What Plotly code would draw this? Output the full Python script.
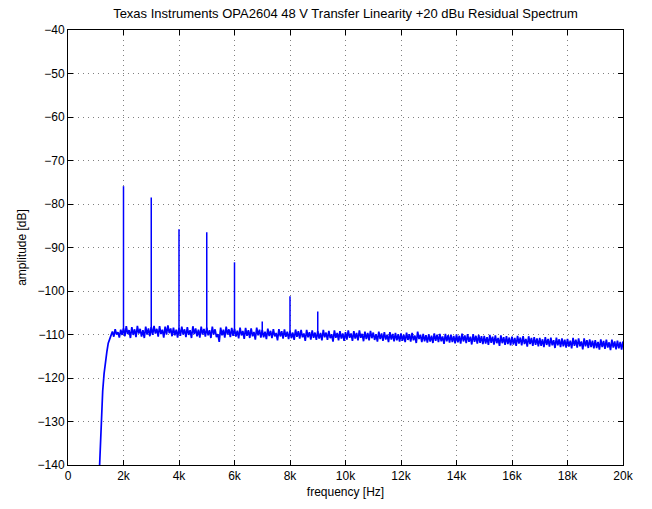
import plotly.graph_objects as go

# ---- data ----
# low-frequency roll-off (Hz, dB)
rolloff_hz = [1100, 1150, 1200, 1250, 1300, 1350, 1400, 1450, 1500, 1550]
rolloff_db = [-146.0, -138.5, -130.0, -123.0, -119.0, -116.0, -114.0, -112.0, -110.8, -110.2]

# residual noise floor (centre of the noise band), every 100 Hz from 1600 Hz to 20000 Hz (dB)
floor_start_hz = 1600
floor_step_hz = 100
floor_db = [
    # 1.6k - 1.9k
    -109.9, -109.4, -110.1, -109.5,
    # 2.0k - 2.9k
    -109.5, -109.0, -109.9, -109.2, -109.7, -108.9, -109.6, -109.9, -109.1, -109.5,
    # 3.0k - 3.9k
    -109.2, -108.9, -109.6, -109.0, -109.8, -109.1, -108.8, -109.5, -109.3, -109.8,
    # 4.0k - 4.9k
    -109.4, -109.1, -109.7, -109.2, -109.9, -109.0, -109.5, -109.8, -109.1, -109.6,
    # 5.0k - 5.9k
    -109.3, -109.9, -109.1, -109.7, -110.8, -109.3, -109.8, -109.1, -109.7, -109.4,
    # 6.0k - 6.9k
    -109.6, -110.0, -109.3, -110.1, -109.4, -109.9, -109.5, -110.3, -109.3, -109.8,
    # 7.0k - 7.9k
    -109.8, -110.2, -109.5, -110.0, -109.6, -110.5, -109.6, -110.1, -109.7, -110.2,
    # 8.0k - 8.9k
    -110.0, -110.4, -109.7, -110.1, -109.8, -110.6, -109.8, -110.3, -109.9, -110.4,
    # 9.0k - 9.9k
    -110.1, -110.5, -109.8, -110.4, -110.0, -110.8, -109.9, -110.5, -110.1, -110.6,
    # 10.0k - 10.9k
    -110.3, -109.9, -110.6, -110.1, -110.5, -109.9, -110.7, -110.2, -110.5, -110.0,
    # 11.0k - 11.9k
    -110.4, -110.8, -110.2, -110.6, -110.3, -110.9, -110.3, -110.7, -110.5, -110.8,
    # 12.0k - 12.9k
    -110.6, -110.9, -110.4, -110.8, -110.5, -111.1, -110.2, -110.9, -110.7, -111.0,
    # 13.0k - 13.9k
    -110.8, -111.1, -110.6, -110.9, -110.7, -111.3, -110.7, -111.0, -110.9, -111.2,
    # 14.0k - 14.9k
    -110.9, -111.2, -110.7, -111.1, -110.8, -111.4, -110.8, -111.2, -111.0, -111.3,
    # 15.0k - 15.9k
    -111.2, -111.5, -111.0, -111.4, -111.1, -111.7, -111.1, -111.5, -111.3, -111.6,
    # 16.0k - 16.9k
    -111.4, -111.7, -111.2, -111.6, -111.3, -111.9, -111.3, -111.7, -111.5, -111.8,
    # 17.0k - 17.9k
    -111.7, -112.0, -111.5, -111.9, -111.6, -112.2, -111.6, -112.0, -111.8, -112.1,
    # 18.0k - 18.9k
    -111.9, -112.3, -111.7, -112.1, -111.8, -112.5, -111.8, -112.2, -112.0, -112.3,
    # 19.0k - 20.0k
    -112.2, -112.6, -112.0, -112.4, -112.1, -112.7, -112.1, -112.5, -112.3, -112.6,
    -112.5,
]
# half-thickness of the noise band (dB), one value per kHz from 1k .. 20k
band_halfwidth_db = [0.6, 0.9, 0.9, 0.9, 0.9, 0.9, 0.85, 0.85, 0.85, 0.85,
                     0.85, 0.85, 0.85, 0.9, 0.9, 0.9, 0.9, 0.9, 0.9, 0.9]

# harmonic spikes (Hz, peak dB)
harm_hz = [2000, 3000, 4000, 5000, 6000, 7000, 8000, 9000]
harm_db = [-75.9, -78.5, -85.8, -86.5, -93.4, -107.0, -101.2, -104.7]

x_ticks = [0, 2000, 4000, 6000, 8000, 10000, 12000, 14000, 16000, 18000, 20000]
x_ticklabels = ["0", "2k", "4k", "6k", "8k", "10k", "12k", "14k", "16k", "18k", "20k"]
y_ticks = [-140, -130, -120, -110, -100, -90, -80, -70, -60, -50, -40]

# ---- build the spectrum line ----
xs = list(rolloff_hz)
ys = list(rolloff_db)
floor_at = {}
for i, v in enumerate(floor_db):
    f = floor_start_hz + i * floor_step_hz
    floor_at[f] = v
    hw = band_halfwidth_db[min(f // 1000 - 1, len(band_halfwidth_db) - 1)]
    xs.append(f)
    ys.append(v + hw)
    if f + floor_step_hz // 2 <= 20000:
        xs.append(f + floor_step_hz // 2)
        ys.append(v - hw)

spike_x, spike_y = [], []
for f, p in zip(harm_hz, harm_db):
    spike_x += [f, f, None]
    spike_y += [floor_at[f], p, None]

FONT = "Liberation Sans, Arial, Helvetica, sans-serif"

fig = go.Figure()
fig.add_trace(go.Scatter(x=xs, y=ys, mode="lines",
                         line=dict(color="#0000ff", width=1.7),
                         hoverinfo="skip", showlegend=False))
fig.add_trace(go.Scatter(x=spike_x, y=spike_y, mode="lines",
                         line=dict(color="#0000ff", width=1.5),
                         hoverinfo="skip", showlegend=False))

axis_common = dict(
    showline=True, linecolor="black", linewidth=1, mirror="allticks",
    ticks="inside", ticklen=5, tickcolor="black",
    showgrid=True, gridcolor="#808080", gridwidth=1, griddash="1px,4px",
    zeroline=False, tickfont=dict(family=FONT, size=12, color="black"),
)

fig.update_xaxes(range=[0, 20000], tickvals=x_ticks, ticktext=x_ticklabels,
                 title=dict(text="frequency [Hz]", standoff=5,
                            font=dict(family=FONT, size=12, color="black")),
                 **axis_common)
fig.update_yaxes(range=[-140, -40], tickvals=y_ticks,
                 title=dict(text="amplitude [dB]", standoff=8,
                            font=dict(family=FONT, size=12, color="black")),
                 **axis_common)

fig.update_layout(
    width=652, height=509,
    margin=dict(l=68, r=29, t=30, b=41),
    paper_bgcolor="white", plot_bgcolor="white",
    title=dict(text="Texas Instruments OPA2604 48 V Transfer Linearity +20 dBu Residual Spectrum",
               x=345.5 / 652, xanchor="center",
               y=1 - 13 / 509, yanchor="middle",
               font=dict(family=FONT, size=13, color="black")),
    font=dict(family=FONT, size=12, color="black"),
)

# remove the browser's default 8px page margin so the figure sits at the window origin
fig.write_html("out.html", config={"displayModeBar": False},
               post_script="document.body.style.margin='0';document.body.style.padding='0';")
